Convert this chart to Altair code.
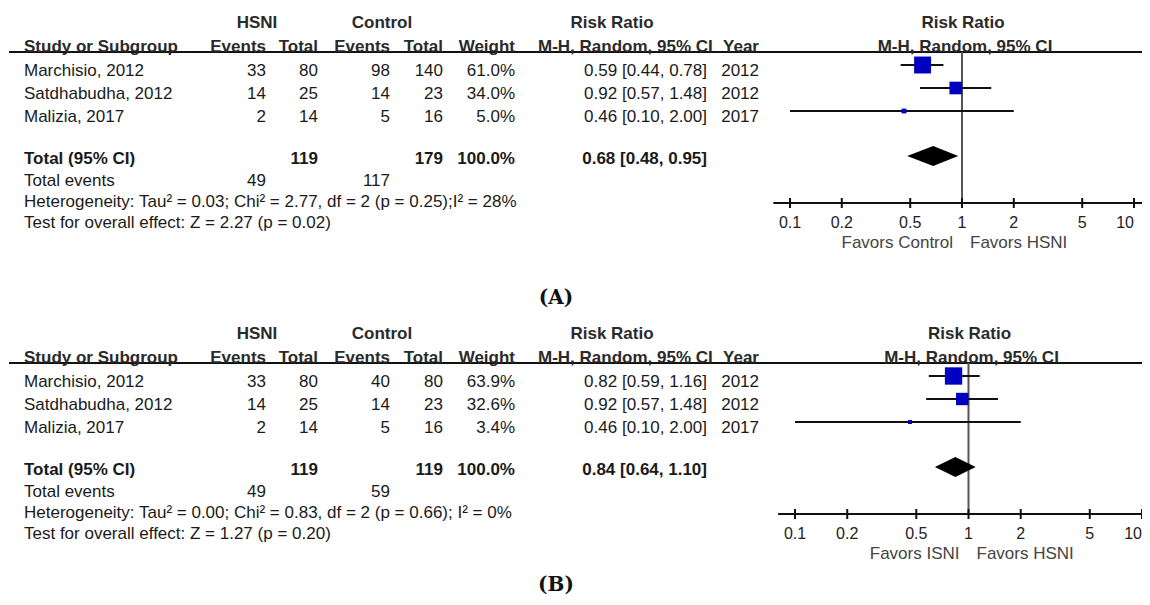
import altair as alt
import pandas as pd

# ---------------- data ----------------
studies = ["Marchisio, 2012", "Satdhabudha, 2012", "Malizia, 2017"]
years = ["2012", "2012", "2017"]
hsni_events = [33, 14, 2]
hsni_total = [80, 25, 14]

a_ctrl_events = [98, 14, 5]
a_ctrl_total = [140, 23, 16]
a_weight = [61.0, 34.0, 5.0]
a_rr = [0.59, 0.92, 0.46]
a_lo = [0.44, 0.57, 0.10]
a_hi = [0.78, 1.48, 2.00]
a_totals = [119, 179]
a_pooled = [0.68, 0.48, 0.95]
a_events = [49, 117]
a_het = "Heterogeneity: Tau² = 0.03; Chi² = 2.77, df = 2 (p = 0.25);I² = 28%"
a_test = "Test for overall effect: Z = 2.27 (p = 0.02)"
a_favors = ["Favors Control", "Favors HSNI"]

b_ctrl_events = [40, 14, 5]
b_ctrl_total = [80, 23, 16]
b_weight = [63.9, 32.6, 3.4]
b_rr = [0.82, 0.92, 0.46]
b_lo = [0.59, 0.57, 0.10]
b_hi = [1.16, 1.48, 2.00]
b_totals = [119, 119]
b_pooled = [0.84, 0.64, 1.10]
b_events = [49, 59]
b_het = "Heterogeneity: Tau² = 0.00; Chi² = 0.83, df = 2 (p = 0.66); I² = 0%"
b_test = "Test for overall effect: Z = 1.27 (p = 0.20)"
b_favors = ["Favors ISNI", "Favors HSNI"]

group_headers = ["HSNI", "Control", "Risk Ratio"]
col_headers = ["Study or Subgroup", "Events", "Total", "Events", "Total", "Weight",
               "M-H, Random, 95% CI", "Year"]
forest_headers = ["Risk Ratio", "M-H, Random, 95% CI"]
ticks = [0.1, 0.2, 0.5, 1, 2, 5, 10]
tick_labels = ["0.1", "0.2", "0.5", "1", "2", "5", "10"]
panel_labels = ["(A)", "(B)"]

# ---------------- layout (image pixels) ----------------
M = 8
W, H = 1134, 589
SANS = "Liberation Sans"
SERIF = "DejaVu Serif"
TXT = "#1a1a1a"
HDR = "#2a2a2a"
GREY = "#444444"
COLS = dict(study=24, ev1=266, tot1=318, ev2=390, tot2=443, weight=515, ci=707, year=759)
PANELS = [dict(dy=0, x0=790, x1=1134, label_y=297),
          dict(dy=311, x0=795, x1=1142, label_y=584)]
ROW_H1, ROW_H2 = 22, 46
ROW_S = [70, 93, 116]
ROW_TOTAL, ROW_EVENTS, ROW_HET, ROW_TEST = 158, 180, 201, 222
F_ROWS = [65, 88, 111]
F_DIAMOND, F_HALF = 156, 10
LINE_Y, AXIS_Y, TICK_HALF, TICKLAB_Y, FAVORS_Y = 52, 203, 5, 222, 242
TICK_FS = 16

texts = []


def add(x, yc, s, align="left", bold=False, color=TXT, size=17, font=SANS):
    texts.append(dict(x=x - M, y=yc - M + round(0.36 * size), t=str(s), align=align,
                      bold=bool(bold), color=color, size=int(size), font=font))


def ci_str(v):
    return f"{v[0]:.2f} [{v[1]:.2f}, {v[2]:.2f}]"


panel_data = [
    dict(ce=a_ctrl_events, ct=a_ctrl_total, w=a_weight, rr=a_rr, lo=a_lo, hi=a_hi,
         tot=a_totals, pooled=a_pooled, ev=a_events, het=a_het, test=a_test, fav=a_favors),
    dict(ce=b_ctrl_events, ct=b_ctrl_total, w=b_weight, rr=b_rr, lo=b_lo, hi=b_hi,
         tot=b_totals, pooled=b_pooled, ev=b_events, het=b_het, test=b_test, fav=b_favors),
]

XPIX = alt.X("x:Q", scale=alt.Scale(domain=[0, W], range=[0, W]), axis=None)


def ypix(field):
    return alt.Y(f"{field}:Q", scale=alt.Scale(domain=[0, H], range=[0, H]), axis=None)


layers = []
for p, d, lab in zip(PANELS, panel_data, panel_labels):
    dy = p["dy"]
    one_x = (p["x0"] + p["x1"]) / 2
    # group headers
    add(257, ROW_H1 + dy, group_headers[0], "center", True, HDR)
    add(382, ROW_H1 + dy, group_headers[1], "center", True, HDR)
    add(612, ROW_H1 + dy, group_headers[2], "center", True, HDR)
    # column headers
    hx = [(COLS["study"], "left"), (COLS["ev1"], "right"), (COLS["tot1"], "right"),
          (COLS["ev2"], "right"), (COLS["tot2"], "right"), (COLS["weight"], "right"),
          (538, "left"), (COLS["year"], "right")]
    for (x, al), t in zip(hx, col_headers):
        add(x, ROW_H2 + dy, t, al, True, HDR)
    # forest headers
    add(one_x + 1, ROW_H1 + dy, forest_headers[0], "center", True, HDR)
    add(one_x + 3, ROW_H2 + dy, forest_headers[1], "center", True, HDR)
    # study rows
    for i in range(3):
        y = ROW_S[i] + dy
        add(COLS["study"], y, studies[i])
        add(COLS["ev1"], y, hsni_events[i], "right")
        add(COLS["tot1"], y, hsni_total[i], "right")
        add(COLS["ev2"], y, d["ce"][i], "right")
        add(COLS["tot2"], y, d["ct"][i], "right")
        add(COLS["weight"], y, f"{d['w'][i]:.1f}%", "right")
        add(COLS["ci"], y, ci_str([d["rr"][i], d["lo"][i], d["hi"][i]]), "right")
        add(COLS["year"], y, years[i], "right")
    # total row
    y = ROW_TOTAL + dy
    add(COLS["study"], y, "Total (95% CI)", "left", True)
    add(COLS["tot1"], y, d["tot"][0], "right", True)
    add(COLS["tot2"], y, d["tot"][1], "right", True)
    add(COLS["weight"], y, "100.0%", "right", True)
    add(COLS["ci"], y, ci_str(d["pooled"]), "right", True)
    # events / stats
    add(COLS["study"], ROW_EVENTS + dy, "Total events")
    add(COLS["ev1"], ROW_EVENTS + dy, d["ev"][0], "right")
    add(COLS["ev2"], ROW_EVENTS + dy, d["ev"][1], "right")
    add(COLS["study"], ROW_HET + dy, d["het"])
    add(COLS["study"], ROW_TEST + dy, d["test"])
    # favors
    add(one_x - 9, FAVORS_Y + dy, d["fav"][0], "right", False, GREY)
    add(one_x + 8, FAVORS_Y + dy, d["fav"][1], "left", False, GREY)
    # panel label
    add(556, p["label_y"], lab, "center", True, "#111111", 20, SERIF)

    # header line
    hl = pd.DataFrame({"x": [9 - M], "x2": [1150 - M], "y": [LINE_Y + dy - M]})
    layers.append(alt.Chart(hl).mark_rule(color="#111111", strokeWidth=2).encode(
        x=XPIX, x2="x2:Q", y=ypix("y")))

    LOG = alt.Scale(type="log", domain=[0.1, 10], range=[p["x0"] - M, p["x1"] - M])

    def lx(field, LOG=LOG):
        return alt.X(f"{field}:Q", scale=LOG, axis=None)

    # null line
    nl = pd.DataFrame({"v": [1], "y": [LINE_Y + dy - M], "y2": [AXIS_Y + dy - M]})
    layers.append(alt.Chart(nl).mark_rule(color="#555555", strokeWidth=2).encode(
        x=lx("v"), y=ypix("y"), y2="y2:Q"))
    # CI lines
    ci = pd.DataFrame({"lo": d["lo"], "hi": d["hi"], "y": [r + dy - M for r in F_ROWS]})
    layers.append(alt.Chart(ci).mark_rule(color="#111111", strokeWidth=2).encode(
        x=lx("lo"), x2="hi:Q", y=ypix("y")))
    # squares
    sq = pd.DataFrame({"rr": d["rr"], "w": d["w"], "y": [r + dy - M for r in F_ROWS]})
    layers.append(alt.Chart(sq).mark_square(color="#0000c0", opacity=1).encode(
        x=lx("rr"), y=ypix("y"),
        size=alt.Size("w:Q", scale=alt.Scale(domain=[0, 100], range=[0, 470]), legend=None)))
    # diamond
    c = F_DIAMOND + dy - M
    dm = pd.DataFrame({"v": [d["pooled"][1], d["pooled"][0], d["pooled"][2]],
                       "y": [c, c - F_HALF, c], "y2": [c, c + F_HALF, c]})
    layers.append(alt.Chart(dm).mark_area(color="#000000", orient="vertical").encode(
        x=lx("v"), y=ypix("y"), y2="y2:Q"))
    # axis line
    ax = pd.DataFrame({"lo": [0.08], "hi": [12.5], "y": [AXIS_Y + dy - M]})
    layers.append(alt.Chart(ax).mark_rule(color="#111111", strokeWidth=2).encode(
        x=lx("lo"), x2="hi:Q", y=ypix("y")))
    # ticks
    tk = pd.DataFrame({"v": ticks, "y": AXIS_Y + dy - M - TICK_HALF,
                       "y2": AXIS_Y + dy - M + TICK_HALF})
    layers.append(alt.Chart(tk).mark_rule(color="#111111", strokeWidth=2).encode(
        x=lx("v"), y=ypix("y"), y2="y2:Q"))
    # tick labels (a label that would run past the right edge is right-aligned on its tick)
    ty = TICKLAB_Y + dy - M + round(0.36 * TICK_FS)
    tl = pd.DataFrame({"v": ticks, "t": tick_labels, "y": ty})
    fits = p["x1"] + 10 <= W + M
    main = tl if fits else tl.iloc[:-1]
    layers.append(alt.Chart(main).mark_text(align="center", baseline="alphabetic", font=SANS,
                                            fontSize=TICK_FS, color="#222222").encode(
        x=lx("v"), y=ypix("y"), text="t:N"))
    if not fits:
        layers.append(alt.Chart(tl.iloc[-1:]).mark_text(
            align="right", baseline="alphabetic", font=SANS, fontSize=TICK_FS,
            color="#222222").encode(x=lx("v"), y=ypix("y"), text="t:N"))

tdf = pd.DataFrame(texts)
for key, g in tdf.groupby(["align", "bold", "color", "size", "font"]):
    al, b, col, s, f = key
    layers.append(alt.Chart(g[["x", "y", "t"]].reset_index(drop=True)).mark_text(
        align=str(al), baseline="alphabetic", font=str(f), fontSize=int(s),
        fontWeight="bold" if bool(b) else "normal", color=str(col)).encode(
        x=XPIX, y=ypix("y"), text="t:N"))

chart = alt.layer(*layers).resolve_scale(x="independent").properties(
    width=W, height=H, padding=0, autosize=alt.AutoSizeParams(type="none")
).configure_view(stroke=None)

chart.save("out.html", embed_options={"renderer": "svg", "actions": False})
